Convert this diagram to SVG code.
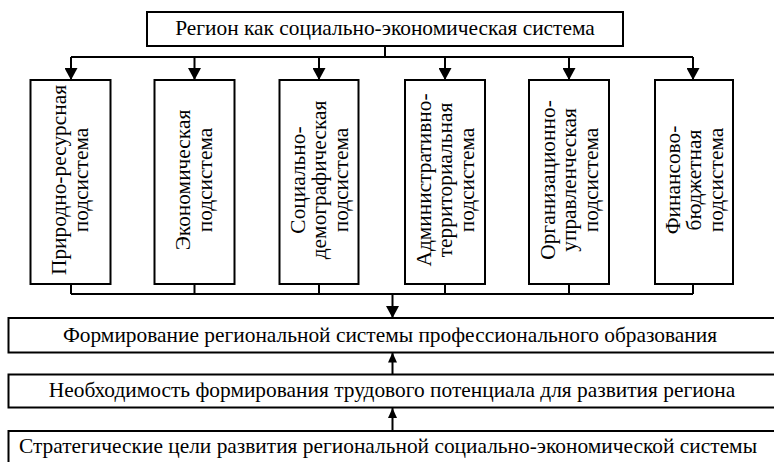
<svg xmlns="http://www.w3.org/2000/svg" width="774" height="462" viewBox="0 0 774 462">
<style>
.box{fill:#fff;stroke:#000;stroke-width:2}
.ln{fill:none;stroke:#000;stroke-width:2}
.t{font-size:21.4px;fill:#000}
.c{text-anchor:middle}
</style>
<defs>
<marker id="ad" markerUnits="userSpaceOnUse" markerWidth="13" markerHeight="13" refX="12" refY="6.5" orient="auto">
<path d="M0,0 L12,6.5 L0,13 z" fill="#000"/>
</marker>
<marker id="au" markerUnits="userSpaceOnUse" markerWidth="11" markerHeight="10" refX="10" refY="4.5" orient="auto">
<path d="M0,0 L10,4.5 L0,9 z" fill="#000"/>
</marker>
</defs>
<rect width="774" height="462" fill="#fff"/>
<g id="connectors">
<path class="ln" d="M385,46 V57 M71,57 H693 M71,294 H693 M71,284 V294 M194.5,284 V294 M319,284 V294 M445,284 V294 M569,284 V294 M693,284 V294"/>
<path class="ln" d="M71,57 V80" marker-end="url(#ad)"/>
<path class="ln" d="M194.5,57 V80" marker-end="url(#ad)"/>
<path class="ln" d="M319,57 V80" marker-end="url(#ad)"/>
<path class="ln" d="M445,57 V80" marker-end="url(#ad)"/>
<path class="ln" d="M569,57 V80" marker-end="url(#ad)"/>
<path class="ln" d="M693,57 V80" marker-end="url(#ad)"/>
<path class="ln" d="M392.5,294 V318" marker-end="url(#ad)"/>
<path class="ln" d="M392.5,374.5 V352.5" marker-end="url(#au)"/>
<path class="ln" d="M392.5,431 V408" marker-end="url(#au)"/>
</g>
<g font-family="'Liberation Serif', 'DejaVu Serif', serif">
<g id="top">
<rect class="box" x="147" y="12" width="476" height="34"/>
<text class="t c" x="385" y="35">Регион как социально-экономическая система</text>
</g>
<g id="n1">
<rect class="box" x="30.5" y="80" width="80" height="204"/>
<text class="t c" transform="translate(70.5,180) rotate(-90)"><tspan x="0" y="-4.5">Природно-ресурсная</tspan><tspan x="0" y="17">подсистема</tspan></text>
</g>
<g id="n2">
<rect class="box" x="154.5" y="80" width="80" height="204"/>
<text class="t c" transform="translate(194.5,180) rotate(-90)"><tspan x="0" y="-4.5">Экономическая</tspan><tspan x="0" y="17">подсистема</tspan></text>
</g>
<g id="n3">
<rect class="box" x="279.5" y="80" width="79" height="204"/>
<text class="t c" transform="translate(319,180) rotate(-90)"><tspan x="0" y="-14.5">Социально-</tspan><tspan x="0" y="7">демографическая</tspan><tspan x="0" y="28.5">подсистема</tspan></text>
</g>
<g id="n4">
<rect class="box" x="405" y="80" width="80" height="204"/>
<text class="t c" transform="translate(445,180) rotate(-90)"><tspan x="0" y="-14.5">Административно-</tspan><tspan x="0" y="7">территориальная</tspan><tspan x="0" y="28.5">подсистема</tspan></text>
</g>
<g id="n5">
<rect class="box" x="529" y="80" width="80" height="204"/>
<text class="t c" transform="translate(569,180) rotate(-90)"><tspan x="0" y="-14.5">Организационно-</tspan><tspan x="0" y="7">управленческая</tspan><tspan x="0" y="28.5">подсистема</tspan></text>
</g>
<g id="n6">
<rect class="box" x="655" y="80" width="78" height="204"/>
<text class="t c" transform="translate(694,180) rotate(-90)"><tspan x="0" y="-14.5">Финансово-</tspan><tspan x="0" y="7">бюджетная</tspan><tspan x="0" y="28.5">подсистема</tspan></text>
</g>
<g id="b1">
<rect class="box" x="8.5" y="318" width="780" height="34.5"/>
<text class="t c" x="390" y="342">Формирование региональной системы профессионального образования</text>
</g>
<g id="b2">
<rect class="box" x="8.5" y="374.5" width="780" height="33"/>
<text class="t c" x="392" y="397">Необходимость формирования трудового потенциала для развития региона</text>
</g>
<g id="b3">
<rect class="box" x="8.5" y="431" width="780" height="40"/>
<text class="t c" x="388" y="453">Стратегические цели развития региональной социально-экономической системы</text>
</g>
</g>
</svg>
